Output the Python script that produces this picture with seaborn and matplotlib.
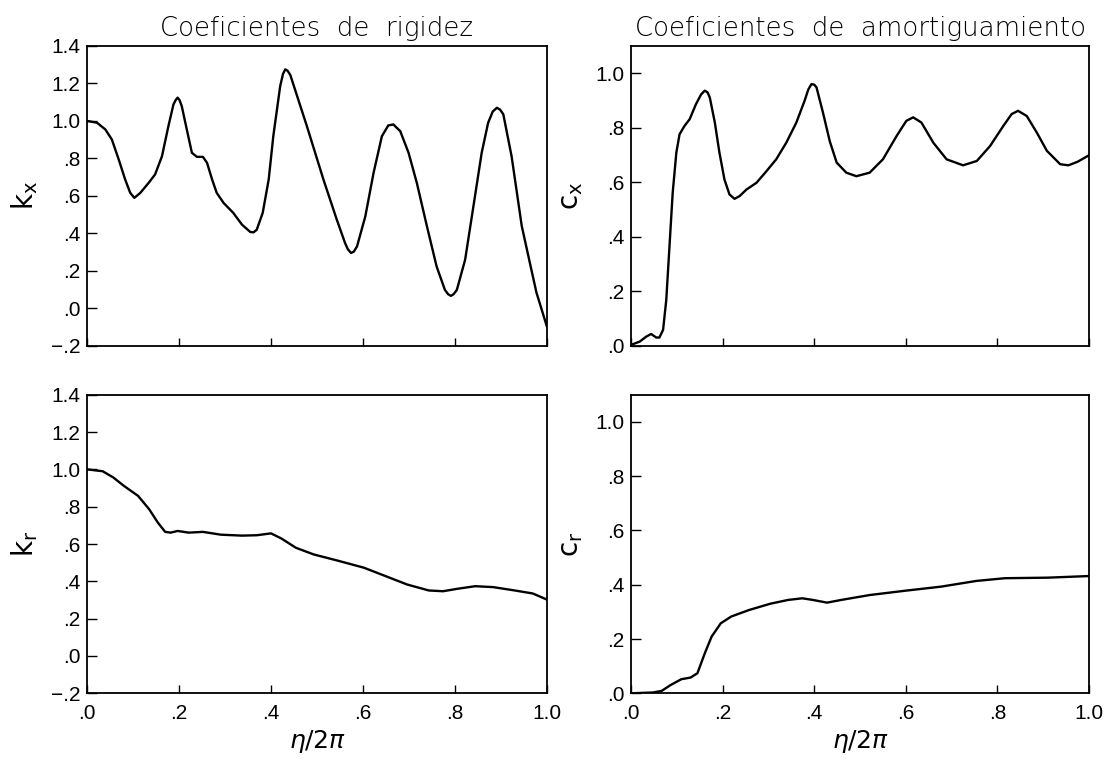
import numpy as np
import pandas as pd
import matplotlib
matplotlib.use("Agg")
import matplotlib.pyplot as plt
import seaborn as sns

# ---- data ----
kx_x = [0.0, 0.022, 0.040, 0.054, 0.069, 0.083, 0.094, 0.103, 0.116, 0.134, 0.148, 0.163, 0.177,
        0.188, 0.193, 0.197, 0.201, 0.206, 0.217, 0.228, 0.239, 0.252, 0.261, 0.272, 0.282, 0.297,
        0.318, 0.337, 0.355, 0.362, 0.369, 0.382, 0.395, 0.405, 0.420, 0.426, 0.431, 0.436, 0.442,
        0.478, 0.514, 0.543, 0.561, 0.567, 0.574, 0.580, 0.587, 0.605, 0.623, 0.641, 0.655, 0.666,
        0.681, 0.699, 0.717, 0.739, 0.760, 0.778, 0.785, 0.791, 0.797, 0.804, 0.822, 0.840, 0.858,
        0.872, 0.882, 0.891, 0.898, 0.905, 0.923, 0.945, 0.962, 0.977, 1.0]
kx_y = [1.0, 0.99, 0.954, 0.901, 0.794, 0.687, 0.616, 0.589, 0.616, 0.669, 0.714, 0.811, 0.972,
        1.088, 1.112, 1.124, 1.112, 1.079, 0.954, 0.830, 0.808, 0.808, 0.776, 0.687, 0.616, 0.562,
        0.509, 0.446, 0.407, 0.405, 0.419, 0.509, 0.687, 0.918, 1.186, 1.250, 1.275, 1.268, 1.245,
        0.972, 0.687, 0.473, 0.348, 0.315, 0.295, 0.302, 0.330, 0.490, 0.723, 0.918, 0.976, 0.981,
        0.945, 0.830, 0.669, 0.437, 0.223, 0.098, 0.075, 0.066, 0.075, 0.098, 0.259, 0.544, 0.830,
        0.990, 1.050, 1.070, 1.060, 1.035, 0.811, 0.44, 0.25, 0.084, -0.10]

cx_x = [0.0, 0.019, 0.033, 0.044, 0.055, 0.062, 0.070, 0.077, 0.084, 0.091, 0.099, 0.106, 0.117,
        0.128, 0.142, 0.153, 0.161, 0.167, 0.172, 0.183, 0.193, 0.204, 0.215, 0.226, 0.237, 0.252,
        0.274, 0.296, 0.317, 0.339, 0.361, 0.379, 0.387, 0.394, 0.400, 0.405, 0.419, 0.434, 0.449,
        0.470, 0.492, 0.521, 0.550, 0.580, 0.601, 0.616, 0.634, 0.660, 0.689, 0.725, 0.755, 0.784,
        0.813, 0.831, 0.845, 0.864, 0.886, 0.908, 0.937, 0.955, 0.975, 1.0]
cx_y = [0.003, 0.015, 0.033, 0.043, 0.030, 0.030, 0.058, 0.168, 0.365, 0.561, 0.709, 0.776, 0.807,
        0.831, 0.887, 0.922, 0.936, 0.930, 0.911, 0.819, 0.709, 0.610, 0.555, 0.539, 0.549, 0.573,
        0.598, 0.641, 0.684, 0.745, 0.819, 0.899, 0.940, 0.960, 0.958, 0.948, 0.856, 0.750, 0.672,
        0.635, 0.622, 0.635, 0.684, 0.770, 0.825, 0.838, 0.819, 0.745, 0.684, 0.662, 0.678, 0.733,
        0.807, 0.850, 0.862, 0.843, 0.782, 0.715, 0.666, 0.662, 0.675, 0.699]

kr_x = [0.0, 0.034, 0.057, 0.080, 0.111, 0.135, 0.154, 0.170, 0.182, 0.197, 0.221, 0.252, 0.291,
        0.337, 0.369, 0.400, 0.423, 0.454, 0.493, 0.548, 0.602, 0.649, 0.696, 0.743, 0.774, 0.805,
        0.844, 0.883, 0.930, 0.969, 1.0]
kr_y = [1.0, 0.99, 0.957, 0.912, 0.858, 0.787, 0.715, 0.665, 0.661, 0.67, 0.661, 0.665, 0.65,
        0.645, 0.647, 0.657, 0.629, 0.58, 0.544, 0.509, 0.473, 0.428, 0.383, 0.351, 0.347, 0.36,
        0.374, 0.369, 0.351, 0.335, 0.302]

cr_x = [0.0, 0.048, 0.067, 0.087, 0.110, 0.130, 0.145, 0.161, 0.176, 0.196, 0.219, 0.258, 0.304,
        0.343, 0.374, 0.397, 0.428, 0.459, 0.521, 0.599, 0.677, 0.754, 0.816, 0.909, 1.0]
cr_y = [0.0, 0.003, 0.009, 0.031, 0.052, 0.058, 0.074, 0.147, 0.209, 0.258, 0.283, 0.307, 0.33,
        0.344, 0.35, 0.344, 0.334, 0.344, 0.362, 0.378, 0.393, 0.414, 0.424, 0.426, 0.432]

x_ticks = [0.0, 0.2, 0.4, 0.6, 0.8, 1.0]
x_ticklabels = [".0", ".2", ".4", ".6", ".8", "1.0"]
k_ticks = [-0.2, 0.0, 0.2, 0.4, 0.6, 0.8, 1.0, 1.2, 1.4]
k_ticklabels = ["\u2212.2", ".0", ".2", ".4", ".6", ".8", "1.0", "1.2", "1.4"]
c_ticks = [0.0, 0.2, 0.4, 0.6, 0.8, 1.0]
c_ticklabels = [".0", ".2", ".4", ".6", ".8", "1.0"]

titles = ["Coeficientes  de  rigidez", "Coeficientes  de  amortiguamiento"]
ylabels = [r"$\mathregular{k_x}$", r"$\mathregular{c_x}$", r"$\mathregular{k_r}$", r"$\mathregular{c_r}$"]
xlabel = r"$\eta/2\pi$"

sns.set_style("ticks", {"axes.edgecolor": "black", "axes.labelcolor": "black",
                        "text.color": "black", "xtick.color": "black", "ytick.color": "black",
                        "xtick.direction": "in", "ytick.direction": "in"})
plt.rcParams['font.family'] = ['DejaVu Sans']

fig = plt.figure(figsize=(11.08, 7.66), dpi=100)
ax_tl = fig.add_axes([0.0785, 0.5487, 0.4152, 0.3913])
ax_tr = fig.add_axes([0.5695, 0.5487, 0.4134, 0.3913])
ax_bl = fig.add_axes([0.0785, 0.0949, 0.4152, 0.3898])
ax_br = fig.add_axes([0.5695, 0.0949, 0.4134, 0.3898])

panels = [
    (ax_tl, kx_x, kx_y, ylabels[0], (-0.2, 1.4), k_ticks, k_ticklabels, False),
    (ax_tr, cx_x, cx_y, ylabels[1], (0.0, 1.1), c_ticks, c_ticklabels, False),
    (ax_bl, kr_x, kr_y, ylabels[2], (-0.2, 1.4), k_ticks, k_ticklabels, True),
    (ax_br, cr_x, cr_y, ylabels[3], (0.0, 1.1), c_ticks, c_ticklabels, True),
]

tick_font = {"family": "Liberation Sans", "size": 15}

for ax, xs, ys, lab, ylim, yt, ytl, bottom in panels:
    df = pd.DataFrame({"x": xs, "y": ys})
    sns.lineplot(data=df, x="x", y="y", ax=ax, color="black", linewidth=1.7)
    ax.set_xlim(0, 1)
    ax.set_ylim(*ylim)
    ax.set_yticks(yt)
    ax.set_yticklabels(ytl, fontdict=tick_font)
    ax.set_xticks(x_ticks)
    ax.tick_params(axis="x", which="both", direction="in", length=6, width=1.0,
                   bottom=True, top=False, pad=8)
    ax.tick_params(axis="y", which="both", direction="in", length=7, width=1.0,
                   left=True, right=False, pad=4.5)
    if bottom:
        ax.set_xticklabels(x_ticklabels, fontdict=tick_font)
        ax.set_xlabel(xlabel, fontsize=18, labelpad=3)
    else:
        ax.set_xticklabels([])
        ax.set_xlabel("")
    ax.set_ylabel(lab, fontsize=20, labelpad=8)
    for s in ax.spines.values():
        s.set_visible(True)
        s.set_color("black")
        s.set_linewidth(1.3)

ax_tl.set_title(titles[0], fontsize=18.7, pad=7, fontweight="light")
ax_tr.set_title(titles[1], fontsize=18.7, pad=7, fontweight="light")

fig.savefig("out.png", dpi=100, facecolor="white")
